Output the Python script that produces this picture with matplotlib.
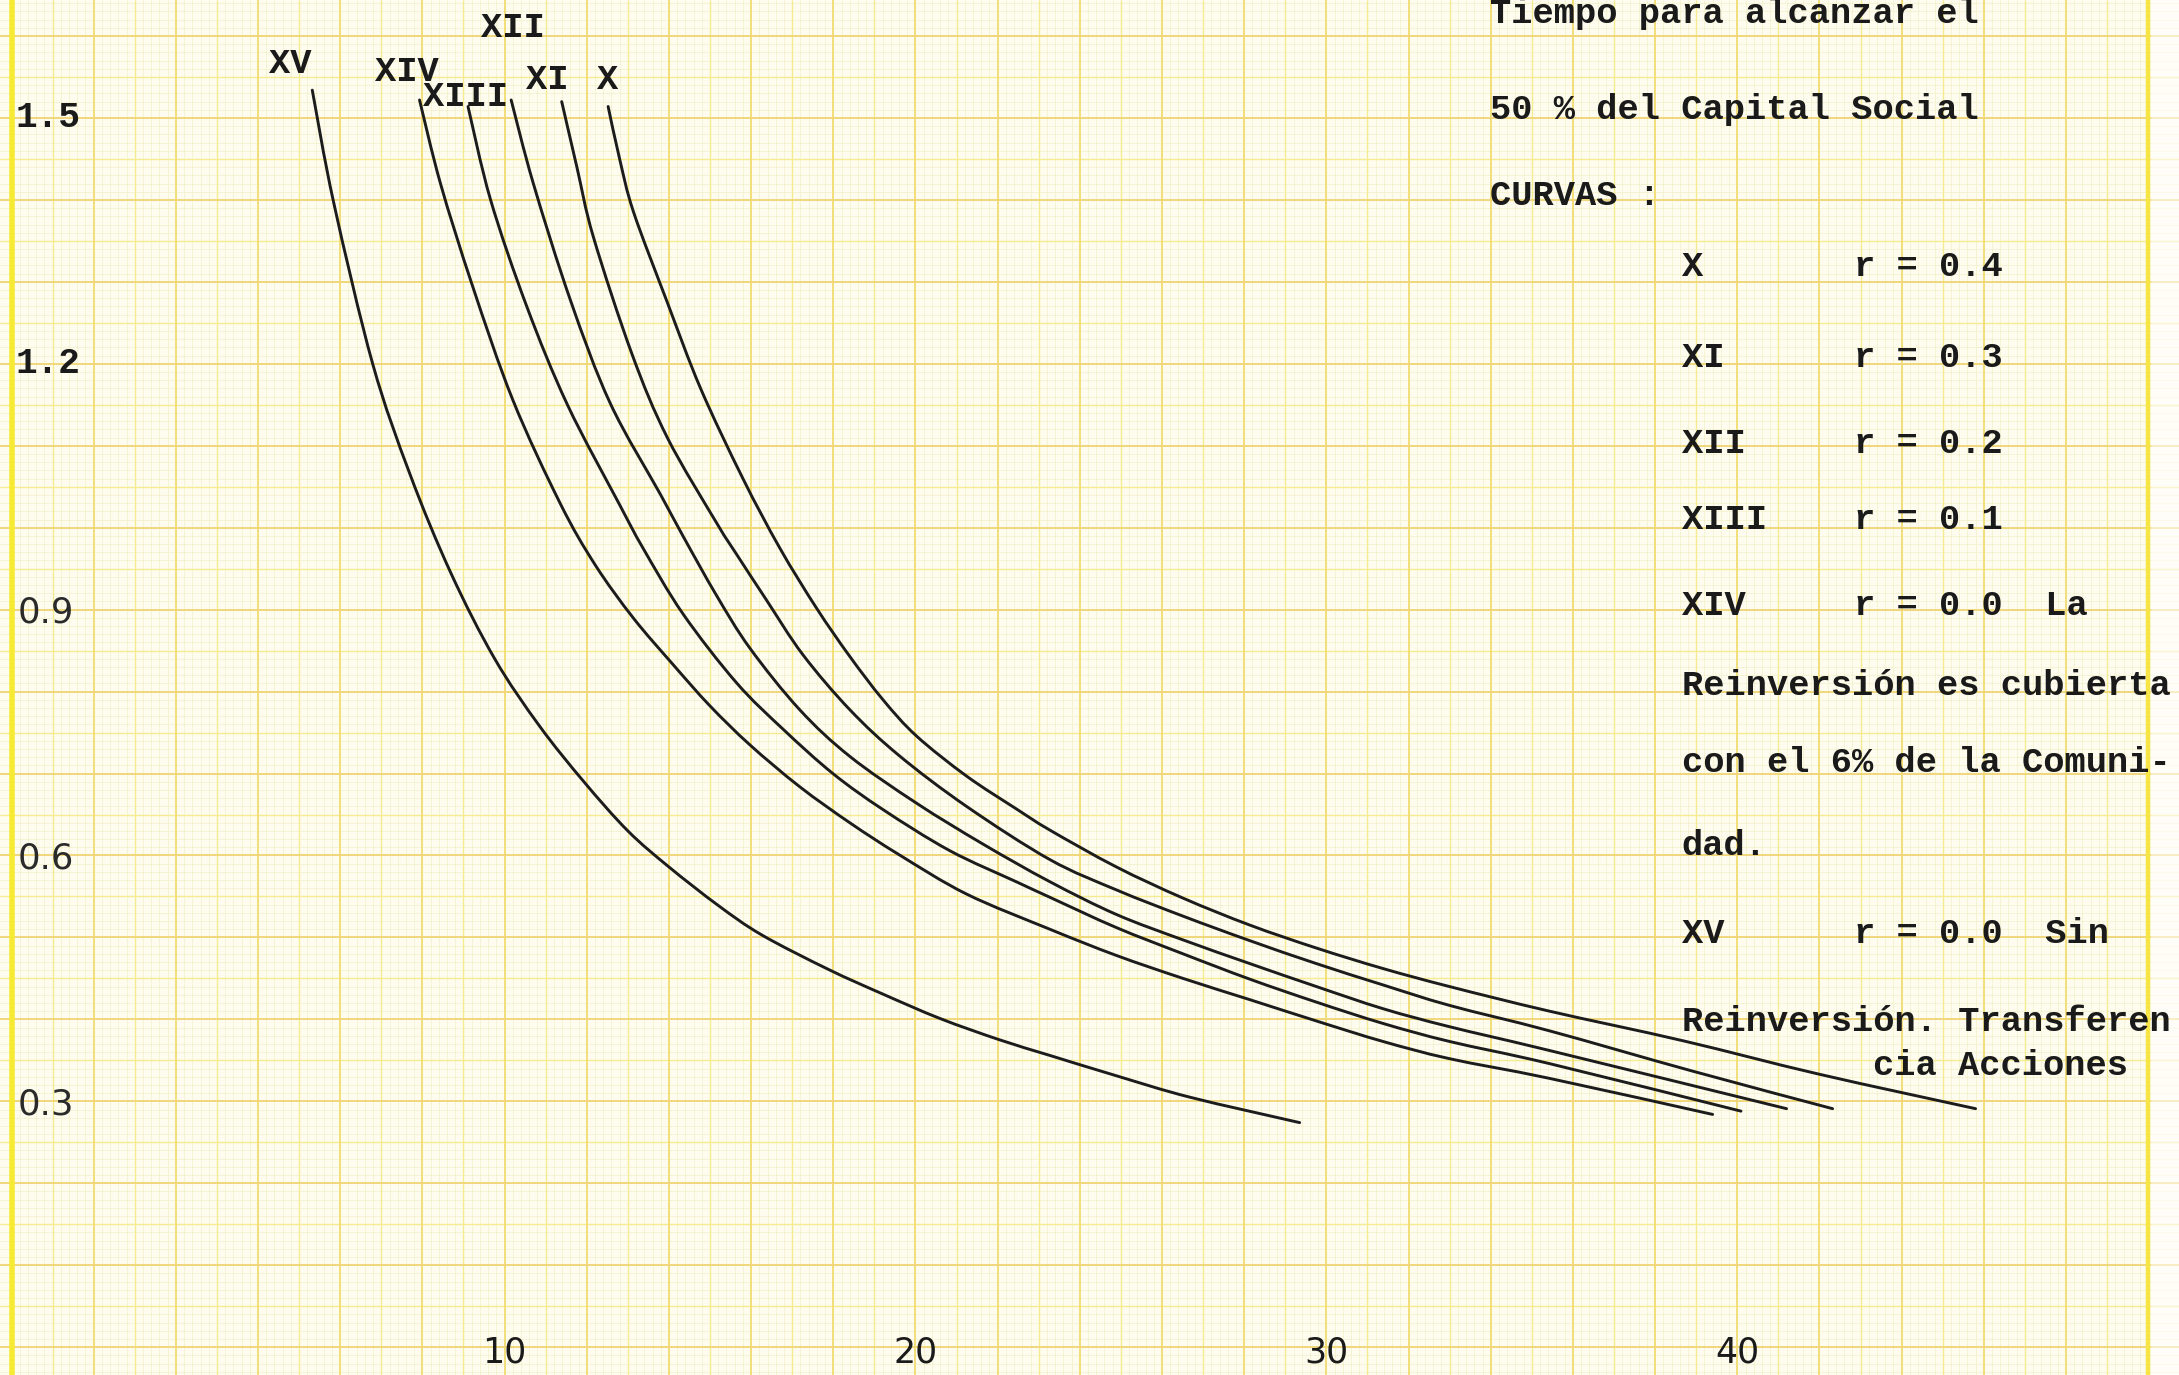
import matplotlib
matplotlib.use("Agg")
import matplotlib.pyplot as plt
import numpy as np
from matplotlib.collections import LineCollection
from matplotlib.path import Path
from matplotlib.patches import PathPatch

# ---------------- data ----------------
curve_labels = ["X", "XI", "XII", "XIII", "XIV", "XV"]
r_values = ["r = 0.4", "r = 0.3", "r = 0.2", "r = 0.1", "r = 0.0  La", "r = 0.0  Sin"]

x_X = [12.52, 12.8, 13.14, 13.96, 14.77, 15.8, 16.7, 17.59, 18.4, 19.21, 20.02, 21.24,
       22.45, 23.27, 24.89, 26.51, 28.14, 29.76, 31.38, 33.0, 35.43, 38.67, 42.0, 45.8]
y_X = [1.514, 1.45, 1.385, 1.275, 1.170, 1.060, 0.975, 0.902, 0.843, 0.790, 0.746, 0.697,
       0.657, 0.631, 0.586, 0.548, 0.515, 0.487, 0.462, 0.440, 0.410, 0.374, 0.333, 0.291]

x_XI = [11.39, 11.76, 12.16, 13.1, 13.96, 15.17, 15.64, 16.37, 17.26, 18.4, 19.6, 21.24,
        23.27, 24.89, 26.51, 28.14, 29.76, 31.38, 33.0, 35.43, 38.9, 42.32]
y_XI = [1.520, 1.44, 1.355, 1.212, 1.110, 1.005, 0.968, 0.912, 0.845, 0.778, 0.722, 0.660,
        0.595, 0.558, 0.526, 0.496, 0.468, 0.442, 0.417, 0.386, 0.337, 0.291]

x_XII = [10.16, 10.7, 11.6, 12.57, 13.8, 14.34, 15.15, 15.97, 17.18, 18.4, 20.02, 21.64,
         23.27, 24.89, 26.51, 28.14, 29.76, 31.38, 33.0, 35.43, 41.2]
y_XII = [1.522, 1.420, 1.278, 1.152, 1.040, 0.990, 0.918, 0.853, 0.778, 0.721, 0.664, 0.614,
         0.568, 0.528, 0.497, 0.468, 0.440, 0.413, 0.391, 0.362, 0.291]

x_XIII = [9.11, 9.66, 10.54, 11.53, 12.8, 13.37, 14.34, 15.64, 16.78, 17.99, 19.21, 20.83,
          22.45, 23.27, 24.89, 26.51, 28.14, 29.76, 31.38, 33.0, 35.43, 40.09]
y_XIII = [1.514, 1.400, 1.270, 1.150, 1.028, 0.975, 0.895, 0.811, 0.754, 0.700, 0.656, 0.606,
          0.568, 0.549, 0.512, 0.480, 0.449, 0.421, 0.395, 0.373, 0.346, 0.288]

x_XIV = [7.93, 8.44, 9.22, 10.2, 11.35, 12.2, 13.13, 14.1, 14.99, 15.97, 17.18, 18.4,
         19.6, 21.24, 23.27, 24.89, 26.51, 28.14, 29.76, 31.38, 33.0, 35.43, 39.4]
y_XIV = [1.522, 1.420, 1.295, 1.156, 1.030, 0.955, 0.890, 0.833, 0.783, 0.735, 0.684, 0.640,
         0.601, 0.553, 0.510, 0.478, 0.450, 0.424, 0.398, 0.373, 0.352, 0.328, 0.284]

x_XV = [5.32, 5.84, 6.79, 7.70, 8.69, 9.76, 10.85, 11.93, 13.0, 14.0, 15.2, 16.26,
        17.88, 19.2, 20.6, 22.05, 23.27, 24.9, 26.68, 29.35]
y_XV = [1.534, 1.397, 1.200, 1.065, 0.945, 0.840, 0.758, 0.690, 0.630, 0.586, 0.539, 0.503,
        0.461, 0.431, 0.401, 0.375, 0.356, 0.331, 0.305, 0.274]

y_tick_labels = ["1.5", "1.2", "0.9", "0.6", "0.3"]
y_tick_values = [1.5, 1.2, 0.9, 0.6, 0.3]
x_tick_labels = ["10", "20", "30", "40"]
x_tick_values = [10, 20, 30, 40]

title_lines = ["Tiempo para alcanzar el", "50 % del Capital Social", "CURVAS :"]
note_lines = ["Reinversión es cubierta", "con el 6% de la Comuni-", "dad."]
note_xv = ["Reinversión. Transferen", "cia Acciones"]

# ---------------- figure ----------------
W, H = 2179, 1375
fig = plt.figure(figsize=(W / 100, H / 100), dpi=100)
ax = fig.add_axes([0, 0, 1, 1])
XMIN, XMAX = -2.28, 50.75
YMIN, YMAX = -0.034, 1.644
ax.set_xlim(XMIN, XMAX)
ax.set_ylim(YMIN, YMAX)
ax.axis("off")
BG = "#fdfcee"
fig.patch.set_facecolor(BG)
ax.set_facecolor(BG)


def vlines(xs, color, lw, alpha=1.0, z=0):
    segs = [[(x, YMIN), (x, YMAX)] for x in xs]
    ax.add_collection(LineCollection(segs, colors=color, linewidths=lw, alpha=alpha, zorder=z))


def hlines(ys, color, lw, alpha=1.0, z=0):
    segs = [[(XMIN, y), (XMAX, y)] for y in ys]
    ax.add_collection(LineCollection(segs, colors=color, linewidths=lw, alpha=alpha, zorder=z))


# graph paper: mm lines, half-cm lines, cm lines
vlines(np.arange(-2.0, 50.01, 0.2), "#efeabc", 0.5, 0.7)
hlines(np.arange(-0.03, 1.6501, 0.01), "#efeabc", 0.5, 0.7)
vlines(np.arange(-1.0, 50.01, 2.0), "#f5eb90", 1.0, 1.0)
hlines(np.arange(-0.05, 1.6501, 0.1), "#f5eb90", 1.0, 1.0)
vlines(np.arange(-2.0, 50.01, 2.0), "#f2dd76", 1.35, 1.0)
hlines(np.arange(0.0, 1.6501, 0.1), "#f0d678", 1.35, 1.0)
vlines([-2.0], "#f6ea34", 4.0, 1.0, 1)
vlines([50.0], "#f6e544", 3.2, 1.0, 1)
ax.axvspan(50.06, XMAX, color="white", alpha=0.55, zorder=1, lw=0)


def smooth_path(xs, ys):
    p = np.column_stack([xs, ys]).astype(float)
    verts = [tuple(p[0])]
    codes = [Path.MOVETO]
    n = len(p)
    for i in range(n - 1):
        p0 = p[i - 1] if i > 0 else p[i]
        p1 = p[i]
        p2 = p[i + 1]
        p3 = p[i + 2] if i + 2 < n else p[i + 1]
        c1 = p1 + (p2 - p0) / 6.0
        c2 = p2 - (p3 - p1) / 6.0
        verts += [tuple(c1), tuple(c2), tuple(p2)]
        codes += [Path.CURVE4] * 3
    return Path(verts, codes)


series = [(x_X, y_X), (x_XI, y_XI), (x_XII, y_XII), (x_XIII, y_XIII), (x_XIV, y_XIV), (x_XV, y_XV)]
for xs, ys in series:
    ax.add_patch(PathPatch(smooth_path(xs, ys), fill=False, edgecolor="#1c1c1c",
                           lw=2.1, capstyle="round", joinstyle="round", zorder=3))

mono = "Liberation Mono"
fs = 25.5
INK = "#1a1a1a"
label_pos = {"XV": (4.79, 1.567), "XIV": (7.62, 1.557), "XIII": (9.05, 1.526),
             "XII": (10.2, 1.611), "XI": (11.05, 1.547), "X": (12.5, 1.547)}
for name in curve_labels:
    px, py = label_pos[name]
    ax.text(px, py, name, family=mono, fontsize=fs, fontweight="bold",
            ha="center", va="center", color=INK, zorder=4)


def tw(x, y, s, **kw):
    ax.text(x, y, s, family=mono, fontsize=fs, fontweight="bold", va="center",
            ha="left", color=INK, zorder=4, **kw)


left1, left2, left3 = 33.98, 38.65, 42.84
tw(left1, 1.628, title_lines[0])
tw(left1, 1.510, title_lines[1])
tw(left1, 1.405, title_lines[2])
rows_y = [1.319, 1.208, 1.103, 1.010, 0.905, 0.505]
for name, rv, yy in zip(curve_labels, r_values, rows_y):
    tw(left2, yy, name)
    tw(left3, yy, rv)
for line, yy in zip(note_lines, [0.808, 0.714, 0.612]):
    tw(left2, yy, line)
tw(left2, 0.397, note_xv[0])
tw(43.3, 0.344, note_xv[1])

for lab, val in zip(y_tick_labels, y_tick_values):
    if val >= 1.2:
        ax.text(-1.9, val, lab, family=mono, fontsize=26, fontweight="bold",
                ha="left", va="center", color=INK)
    else:
        ax.text(-1.85, val - 0.004, lab, family="DejaVu Sans", fontsize=25.5,
                ha="left", va="center", color="#2a2a2a")
for lab, val in zip(x_tick_labels, x_tick_values):
    ax.text(val, -0.006, lab, family="DejaVu Sans", fontsize=25,
            ha="center", va="center", color=INK)

fig.savefig("out.png", dpi=100, facecolor=fig.get_facecolor())
